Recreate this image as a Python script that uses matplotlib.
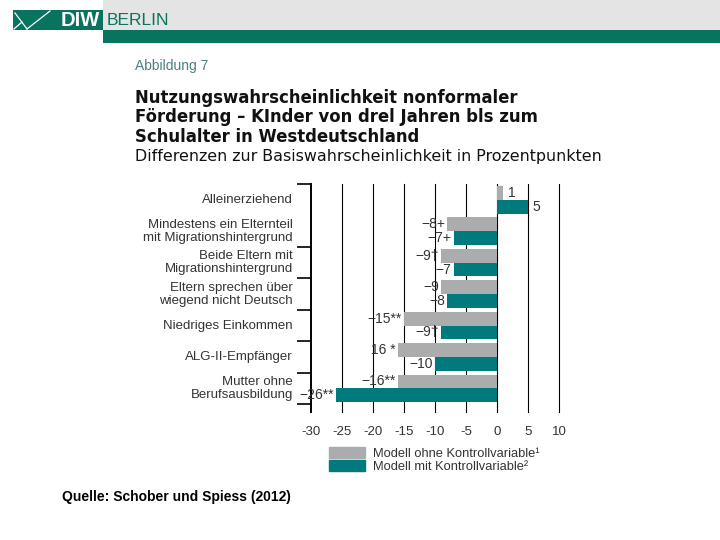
#!/usr/bin/env python3
# coding: utf-8
import matplotlib

matplotlib.use("Agg")
import matplotlib.pyplot as plt
import matplotlib.transforms as mtransforms
import numpy as np
from matplotlib.lines import Line2D
from matplotlib.patches import Rectangle

# Data
CATEGORIES = [
    "Alleinerziehend",
    "Mindestens ein Elternteil\nmit Migrationshintergrund",
    "Beide Eltern mit\nMigrationshintergrund",
    "Eltern sprechen über\nwiegend nicht Deutsch",
    "Niedriges Einkommen",
    "ALG-II-Empfänger",
    "Mutter ohne\nBerufsausbildung",
]
OHNE_VALUES = [1, -8, -9, -9, -15, -16, -16]
MIT_VALUES = [5, -7, -7, -8, -9, -10, -26]
OHNE_LABELS = ["1", "−8+", "−9†", "−9", "−15**", "16 *", "−16**"]
MIT_LABELS = ["5", "−7+", "−7", "−8", "−9†", "−10", "−26**"]
X_TICKS = [-30, -25, -20, -15, -10, -5, 0, 5, 10]
LEGEND_LABELS = ["Modell ohne Kontrollvariable¹", "Modell mit Kontrollvariable²"]

TITLE_LINES = [
    "Nutzungswahrscheinlichkeit nonformaler",
    "Förderung – KInder von drel Jahren bls zum",
    "Schulalter in Westdeutschland",
]
SUBTITLE = "Differenzen zur Basiswahrscheinlichkeit in Prozentpunkten"

# Style
GRAY = "#abacae"
TEAL = "#007a7c"
HEADER_TEAL = "#08735f"
TEXT = "#333333"
W, H = 720, 540

plt.rcParams["font.family"] = ["Liberation Sans", "DejaVu Sans"]


def fx(px):
    return px / W


def fy(py):
    return 1 - py / H


fig = plt.figure(figsize=(7.2, 5.4), dpi=100)

# Header band and logo
fig.patches.append(Rectangle((fx(103), fy(30)), fx(W) - fx(103), 30 / H,
                             transform=fig.transFigure, color="#e4e4e4", lw=0))
fig.patches.append(Rectangle((fx(103), fy(43)), fx(W) - fx(103), 13 / H,
                             transform=fig.transFigure, color=HEADER_TEAL, lw=0))
fig.patches.append(Rectangle((fx(13), fy(30)), 90 / W, 20 / H,
                             transform=fig.transFigure, color=HEADER_TEAL, lw=0))
for xs, ys in [((15, 27), (13, 29)), ((27, 50), (29, 11)), ((14, 22), (29, 22))]:
    fig.lines.append(Line2D([fx(x) for x in xs], [fy(y) for y in ys],
                            transform=fig.transFigure, color="white", lw=0.9))
fig.text(fx(61), fy(20.5), "DIW", color="white", fontsize=14.5, fontweight="bold",
         va="center", ha="left")
fig.text(fx(107), fy(20.5), "BERLIN", color=HEADER_TEAL, fontsize=12.5,
         va="center", ha="left")

# Titles
fig.text(fx(135), fy(66), "Abbildung 7", color="#4f7f80", fontsize=10,
         va="center", ha="left")
for i, line in enumerate(TITLE_LINES):
    fig.text(fx(135), fy(98 + 19.5 * i), line, color="#111111", fontsize=11.9,
             fontweight="bold", va="center", ha="left", family="DejaVu Sans")
fig.text(fx(135), fy(156), SUBTITLE, color="#111111", fontsize=11.4,
         va="center", ha="left", family="DejaVu Sans")

# Chart
ax = fig.add_axes([fx(311), fy(412), 248 / W, 228 / H])
y = np.arange(len(CATEGORIES))
bar_h = 0.44
ax.barh(y - bar_h / 2, OHNE_VALUES, height=bar_h, color=GRAY, zorder=2)
ax.barh(y + bar_h / 2, MIT_VALUES, height=bar_h, color=TEAL, zorder=2)

for v in X_TICKS[1:]:
    ax.axvline(v, color="black", lw=0.8, zorder=1, clip_on=False)

ax.set_xlim(-30, 10)
ax.set_ylim(6.75, -0.5)
for side in ["top", "right", "bottom"]:
    ax.spines[side].set_visible(False)
ax.spines["left"].set_linewidth(1.4)

ax.set_xticks(X_TICKS)
ax.set_xticklabels([str(t) for t in X_TICKS], fontsize=9.5, color=TEXT)
ax.tick_params(axis="x", length=0, pad=10)
ax.set_yticks([-0.5, 1.5, 2.5, 3.5, 4.5, 5.5, 6.5])
ax.set_yticklabels([])
ax.tick_params(axis="y", length=10, width=1.2, direction="out")

blend = mtransforms.blended_transform_factory(ax.transAxes, ax.transData)
for i, label in enumerate(CATEGORIES):
    ax.text(-0.073, i, label, transform=blend, ha="right", va="center",
            fontsize=9.5, color=TEXT, linespacing=1.1)

for vals, labels, offset in [(OHNE_VALUES, OHNE_LABELS, -bar_h / 2),
                             (MIT_VALUES, MIT_LABELS, bar_h / 2)]:
    for i, (v, lab) in enumerate(zip(vals, labels)):
        if v >= 0:
            ax.annotate(lab, (v, i + offset), xytext=(3.5, 0),
                        textcoords="offset points", ha="left", va="center",
                        fontsize=10, color=TEXT, zorder=3)
        else:
            ax.annotate(lab, (v, i + offset), xytext=(-1.5, 0),
                        textcoords="offset points", ha="right", va="center",
                        fontsize=10, color=TEXT, zorder=3)

# Legend
handles = [Rectangle((0, 0), 1, 1, color=GRAY), Rectangle((0, 0), 1, 1, color=TEAL)]
fig.legend(handles, LEGEND_LABELS, loc="upper left",
           bbox_to_anchor=(fx(329), fy(447)), bbox_transform=fig.transFigure,
           frameon=False, fontsize=9.3, handlelength=2.8, handleheight=0.93,
           handletextpad=0.6, labelspacing=0.0, borderpad=0, borderaxespad=0,
           labelcolor=TEXT)

# Source
fig.text(fx(62), fy(497), "Quelle: Schober und Spiess (2012)", color="black",
         fontsize=10, fontweight="bold", va="center", ha="left")

fig.savefig("out.png", dpi=100)
